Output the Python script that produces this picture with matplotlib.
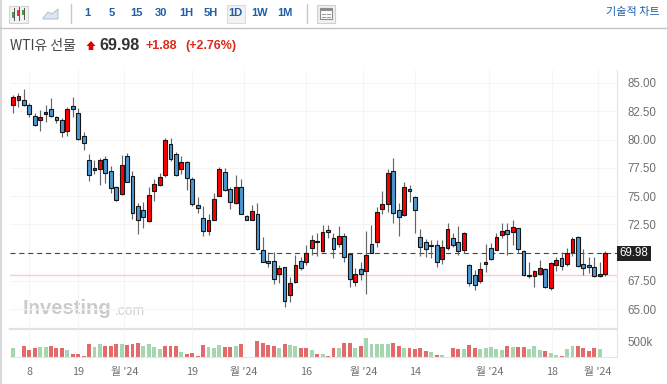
import matplotlib
matplotlib.use("Agg")
import matplotlib.pyplot as plt
from matplotlib.patches import Rectangle, Polygon
import numpy as np

highs = [83.94,84.09,84.44,83.20,82.32,82.61,83.05,83.64,82.11,81.87,82.90,83.73,82.82,80.63,78.69,78.19,78.33,78.54,77.66,75.88,78.63,78.78,77.21,74.35,74.50,75.83,76.47,77.00,
         80.10,80.10,78.92,78.54,78.10,76.71,74.94,74.11,73.43,75.24,77.54,77.45,75.83,76.86,76.47,73.34,74.20,74.35,71.40,70.07,70.07,68.89,68.75,67.86,69.78,69.63,70.66,71.55,71.70,72.43,
         72.43,71.70,72.37,71.70,69.92,68.60,69.19,71.90,72.43,74.06,75.47,77.39,78.33,74.35,76.21,75.97,75.00,72.08,71.16,71.10,71.10,71.10,72.58,71.70,72.34,71.84,68.95,68.45,69.13,
         70.72,70.81,71.70,72.58,72.58,72.87,72.20,70.22,69.13,68.45,69.34,68.60,69.19,69.63,70.07,70.37,71.40,71.46,70.28,69.63,69.63,69.19,70.16]
lows = [82.37,82.90,82.96,82.02,81.19,80.75,81.58,82.02,81.43,80.19,80.34,81.96,79.96,79.07,76.36,76.92,75.97,76.12,75.23,74.59,75.09,76.21,72.93,71.61,72.20,72.73,74.59,75.88,
        76.71,78.10,76.80,76.92,75.53,74.11,73.52,71.46,71.55,72.88,75.00,75.44,73.82,74.26,73.43,72.88,72.88,70.22,69.13,68.75,67.21,67.33,65.21,65.65,67.27,68.45,68.89,69.78,69.69,70.07,
        71.31,69.48,70.52,69.19,66.98,67.03,67.57,66.33,69.92,70.52,73.41,73.58,72.64,71.46,73.26,74.50,71.75,69.69,69.57,69.48,68.69,68.98,70.22,70.52,69.78,69.92,67.03,66.68,67.33,
        68.30,69.34,70.22,71.25,69.78,70.66,69.98,67.92,67.71,66.97,68.01,66.89,66.68,68.39,68.45,68.83,69.69,68.75,68.01,68.21,67.86,67.86,67.92]
opens = [83.08,83.47,83.50,83.02,82.08,81.70,82.26,82.73,81.99,81.75,80.78,82.93,82.32,80.31,78.19,77.33,77.42,78.24,77.18,75.77,75.18,78.51,76.77,74.14,73.76,72.76,75.41,75.94,
         76.86,79.60,78.69,77.42,78.04,76.47,74.23,73.05,71.87,72.91,75.00,77.09,75.62,74.35,75.77,73.22,72.91,73.43,70.25,69.22,69.22,68.07,68.69,66.21,67.36,69.22,69.13,70.43,71.05,70.10,
         72.02,71.25,70.72,71.49,69.84,67.36,68.51,68.39,70.72,70.90,73.82,74.29,77.24,73.73,73.29,75.62,74.91,71.40,70.96,70.63,70.69,69.39,70.43,71.25,70.93,70.22,68.89,67.98,67.45,
         69.01,70.40,70.25,71.58,71.96,71.78,72.14,70.16,67.98,67.89,68.07,68.51,66.83,68.92,69.48,69.01,70.07,71.34,69.01,68.86,68.69,67.92,68.07]
closes = [83.73,83.82,83.02,82.23,81.31,82.02,82.46,82.11,81.75,80.63,82.70,82.70,80.02,79.66,76.86,77.51,78.19,77.03,75.68,74.62,77.77,76.27,73.47,72.90,73.11,75.12,76.09,76.71,
          79.98,78.24,76.89,78.04,76.56,74.29,73.97,71.87,72.91,74.76,77.36,75.53,74.44,75.77,73.43,72.91,73.67,70.28,69.16,69.07,67.62,68.60,65.74,67.27,68.89,68.63,69.98,71.08,70.90,71.84,
          71.78,70.31,71.49,69.63,67.62,68.13,68.13,69.78,69.98,73.58,74.29,77.00,73.52,73.11,75.77,75.47,73.73,70.49,70.34,70.57,69.13,70.46,72.05,70.69,70.10,71.75,67.27,67.12,68.51,
          69.16,69.40,71.40,71.87,71.67,72.26,70.34,67.98,67.95,68.36,68.60,66.97,69.07,69.31,68.83,69.98,71.16,68.83,68.66,68.69,67.89,68.07,69.98]

vols = [297,0,363,242,297,319,319,363,297,297,231,88,88,22,418,341,440,352,352,418,440,385,440,473,352,418,319,264,352,352,352,176,88,121,22,385,319,297,385,319,319,374,418,0,0,528,473,385,352,286,440,385,352,297,297,231,88,88,22,
        308,286,462,462,308,352,638,418,440,418,418,462,374,308,286,264,308,187,165,77,66,11,286,264,264,407,297,264,297,319,253,231,363,330,341,341,264,374,231,198,121,77,22,264,363,374,286,198,286,253,0]
vol_side = ("ggrrrggrrr" "grrrrggrrr" "grrrggggrr" "rgrrrrgggr" "rgrrrrrrrg" "rggrrgrgr"
            "rgrrgrgggg" "grrgrrrrgr" "ggrrgrrggg" "ggrgrrgggr" "ggrggrrrrg" "g")

price_ticks = [85, 82.5, 80, 77.5, 75, 72.5, 70, 67.5, 65]
time_pos = [3, 12, 20.5, 33, 42.5, 54, 64.5, 74, 87.7, 99.3, 107.7]
time_labels = ["8", "19", "월 '24", "19", "월 '24", "16", "월 '24", "14", "월 '24", "18", "월 '24"]
last_price = 69.98
prev_close = 68.05
toolbar_labels = ["1", "5", "15", "30", "1H", "5H", "1D", "1W", "1M"]

KR = ["Noto Sans CJK KR", "DejaVu Sans"]
W, H = 667, 384
UP, DOWN = "#ff0000", "#4a98d3"
BLUE_TXT = "#1f5fa8"

fig = plt.figure(figsize=(W / 100, H / 100), dpi=100, facecolor="white")


def px_axes(x0, y0, x1, y1):
    return fig.add_axes([x0 / W, 1 - y1 / H, (x1 - x0) / W, (y1 - y0) / H])


bg = fig.add_axes([0, 0, 1, 1], zorder=0)
bg.set_xlim(0, W)
bg.set_ylim(H, 0)
bg.axis("off")

# toolbar
bg.add_patch(Rectangle((0, 0), 1.5, H, color="#d8d8d8", lw=0))
bg.plot([0, W], [27.5, 27.5], color="#c4c4c4", lw=1)
bg.plot([70.5, 70.5], [4, 23], color="#c8c8c8", lw=1)
bg.plot([306.5, 306.5], [4, 23], color="#c8c8c8", lw=1)
bg.add_patch(Rectangle((8.5, 5.5), 19, 17, fc="#f1f1f1", ec="#d2d2d2", lw=0.8))
bg.plot([13.5, 13.5], [8, 20], color="#555", lw=0.7)
bg.plot([18.5, 18.5], [7, 20], color="#555", lw=0.7)
bg.plot([23.5, 23.5], [8, 19], color="#555", lw=0.7)
bg.add_patch(Rectangle((12, 12), 3, 6, color="#43a047", lw=0))
bg.add_patch(Rectangle((17, 10), 3, 6, color="#e53935", lw=0))
bg.add_patch(Rectangle((22, 10), 3, 5, color="#43a047", lw=0))
bg.add_patch(Polygon([(43, 18), (48, 12), (52, 14), (58, 9), (58, 19), (43, 19)], fc="#dbe6f1", ec="#a9c0d8", lw=0.7))
bg.add_patch(Rectangle((226.5, 4.5), 18, 18, fc="#f2f2f2", ec="#dcdcdc", lw=0.8))
bg.add_patch(Rectangle((316.5, 4.5), 18, 18, fc="#f0f0f0", ec="#cfcfcf", lw=0.8))
bg.add_patch(Rectangle((320, 8), 11.5, 11, fc="white", ec="#8d8d8d", lw=0.8))
bg.add_patch(Rectangle((320, 8), 11.5, 3, color="#8d8d8d", lw=0))
bg.plot([322, 325], [14, 14], color="#9a9a9a", lw=0.8)
bg.plot([327, 330], [14, 14], color="#9a9a9a", lw=0.8)
bg.plot([322, 325], [17, 17], color="#9a9a9a", lw=0.8)
bg.plot([327, 330], [17, 17], color="#9a9a9a", lw=0.8)
for cx, lab in zip([87.5, 112, 136.5, 161, 186, 210.5, 235, 260, 284.5], toolbar_labels):
    bg.text(cx, 13.5, lab, ha="center", va="center", color=BLUE_TXT, fontsize=8, fontweight="bold", family="Liberation Sans")
bg.text(660, 12, "기술적 차트", ha="right", va="center", color=BLUE_TXT, fontsize=8, family=KR)

# header
bg.text(10, 46, "WTI유 선물", ha="left", va="center", color="#444444", fontsize=10, family=KR)
bg.add_patch(Polygon([(91, 41), (95.5, 46), (93.3, 46), (93.3, 50), (88.7, 50), (88.7, 46), (86.5, 46)], color="#e00000", lw=0))
bg.text(99.5, 46, "69.98", ha="left", va="center", color="#333333", fontsize=11.6, fontweight="bold", family="Liberation Sans")
bg.text(146, 46, "+1.88", ha="left", va="center", color="#dd2a1b", fontsize=9, fontweight="bold", family="Liberation Sans")
bg.text(185, 46, "(+2.76%)", ha="left", va="center", color="#dd2a1b", fontsize=9, fontweight="bold", family="Liberation Sans")

# watermark
bg.text(23, 309, "Investing", ha="left", va="center", color="#cbcbcb", fontsize=14.6, fontweight="bold", family="Liberation Sans")
bg.text(115, 311, ".com", ha="left", va="center", color="#d2d2d2", fontsize=10, family="Liberation Sans")

# price pane
xs = np.arange(len(opens))
xlim = (-0.55, 111.2)
ax = px_axes(10, 70, 617, 328)
ax.set_zorder(1)
ax.patch.set_alpha(0)
ax.set_xlim(*xlim)
ax.set_ylim(63.32, 86.15)
ax.set_yticks(price_ticks)
ax.set_xticks(time_pos)
ax.grid(color="#f5f5f5", lw=0.8)
ax.set_axisbelow(True)
ax.tick_params(left=False, bottom=False, right=False, labelleft=False, labelbottom=False, labelright=True, pad=4)
ax.set_yticklabels(["%.2f" % t for t in price_ticks], color="#707070", fontsize=8.3, family="Liberation Sans")
for s in ["top", "left", "bottom"]:
    ax.spines[s].set_visible(False)
ax.spines["right"].set_color("#e4e4e4")
ax.axhline(prev_close, color="#ffc9c9", lw=1, zorder=1)
ax.axhline(last_price, color="#444444", lw=0.8, dashes=(4.5, 3.5), zorder=1)

o, c = np.array(opens), np.array(closes)
is_up = c >= o
ax.vlines(xs, lows, highs, color="#666666", lw=0.85, zorder=2)
body = np.maximum(np.abs(c - o), 0.08)
ax.bar(xs, body, bottom=np.minimum(o, c), width=0.7, color=np.where(is_up, UP, DOWN), edgecolor="#151515", linewidth=0.8, zorder=3)

# 69.98 label: hide the 70.00 tick, the box sits there instead
ax.get_yticklabels()[price_ticks.index(70)].set_visible(False)
ov = fig.add_axes([0, 0, 1, 1], zorder=3)
ov.set_xlim(0, W)
ov.set_ylim(H, 0)
ov.axis("off")
ov.add_patch(Rectangle((617, 246), 34, 15, color="#222222", lw=0))
ov.text(634, 253.5, "%.2f" % last_price, ha="center", va="center", color="white", fontsize=8.3, family="Liberation Sans")

# volume pane
vax = px_axes(10, 329, 617, 357)
vax.set_zorder(1)
vax.patch.set_alpha(0)
vax.set_xlim(*xlim)
vax.set_ylim(0, 933)
vax.set_yticks([500])
vax.set_xticks(time_pos)
vax.grid(axis="x", color="#f5f5f5", lw=0.8)
vax.set_axisbelow(True)
vax.bar(xs, vols, width=0.72, color=["#a5d6b0" if v == "g" else "#e26a6a" for v in vol_side])
vax.tick_params(left=False, bottom=False, right=False, labelleft=False, labelright=True, pad=4)
vax.set_yticklabels(["500k"], color="#707070", fontsize=8.3, family="Liberation Sans")
vax.set_xticklabels(time_labels, color="#707070", fontsize=7.8, family=KR)
for s in ["top", "left"]:
    vax.spines[s].set_visible(False)
vax.spines["right"].set_color("#e4e4e4")
vax.spines["bottom"].set_color("#e4e4e4")
bg.plot([10, 617], [328.5, 328.5], color="#e2e2e2", lw=1.6)

fig.savefig("out.png", dpi=100)
